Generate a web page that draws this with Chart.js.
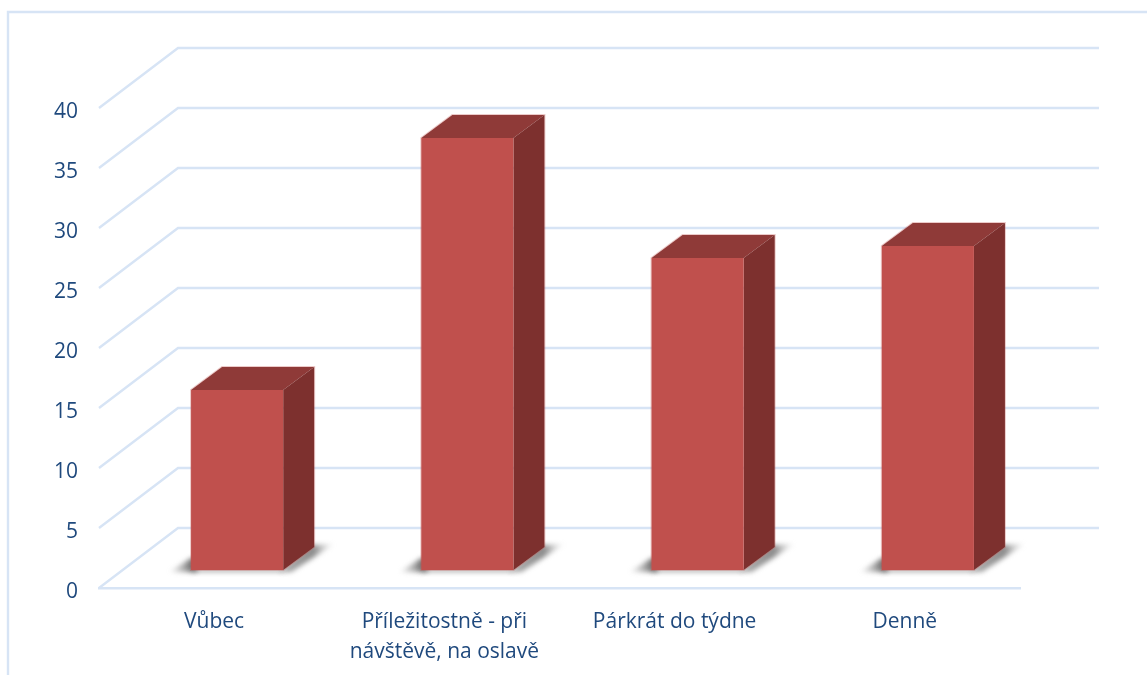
<!DOCTYPE html>
<html><head><meta charset="utf-8">
<style>html,body{margin:0;padding:0;background:#fff}canvas{display:block}</style>
<script src="https://cdn.jsdelivr.net/npm/chart.js@4"></script>
</head><body><canvas id="c" width="1147" height="675"></canvas>
<script>
const categories = ['Vůbec', ['Příležitostně - při', 'návštěvě, na oslavě'], 'Párkrát do týdne', 'Denně'];
const values = [15, 36, 26, 27];
const yMax = 40, yStep = 5;
const GRID = '#d7e4f5', TEXT = '#1f497d';
const FRONT = '#c0504d', TOP = '#8f3a38', SIDE = '#7d302e';
const FONT = 'Open Sans';
const BACK_DX = 79, BACK_DY = -60;   // wall offset
const BAR_DX = 23, BAR_DY = -18;     // bar offset in the depth
const BAR_DEPTH_X = 31, BAR_DEPTH_Y = -23;

const poly = (ctx, pts) => { ctx.beginPath(); pts.forEach((p, i) => i ? ctx.lineTo(p[0], p[1]) : ctx.moveTo(p[0], p[1])); ctx.closePath(); };

const wall = {
  id: 'wall',
  beforeDraw(chart) {
    const { ctx, scales: { x, y } } = chart;
    ctx.save();
    ctx.strokeStyle = GRID; ctx.lineWidth = 2.4;
    ctx.beginPath(); ctx.moveTo(8, 675); ctx.lineTo(8, 12); ctx.lineTo(1147, 12); ctx.stroke();
    for (let v = 0; v <= yMax; v += yStep) {
      const py = y.getPixelForValue(v);
      ctx.beginPath();
      ctx.moveTo(x.left, py);
      ctx.lineTo(x.left + BACK_DX, py + BACK_DY);
      ctx.lineTo(x.right + BACK_DX, py + BACK_DY);
      ctx.stroke();
    }
    ctx.restore();
  },
  beforeDatasetDraw(chart) {
    const { ctx } = chart;
    const base = chart.getDatasetMeta(0).data;
    ctx.save();
    base.forEach(b => {
      const l = b.x - b.width / 2 + BAR_DX, r = b.x + b.width / 2 + BAR_DX, bot = b.base + BAR_DY, top = b.y + BAR_DY;
      // floor shadows
      ctx.save();
      ctx.filter = 'blur(2.5px)';
      let g = ctx.createLinearGradient(l - 22, 0, l, 0);
      g.addColorStop(0, 'rgba(140,140,140,0.05)'); g.addColorStop(.6, 'rgba(120,120,120,.55)'); g.addColorStop(1, 'rgba(90,90,90,.85)');
      ctx.fillStyle = g;
      poly(ctx, [[l - 22, bot + 2], [l, bot - 12], [l + 6, bot - 12], [l + 6, bot + 2]]); ctx.fill();
      g = ctx.createLinearGradient(r, 0, r + BAR_DEPTH_X + 20, 0);
      g.addColorStop(0, 'rgba(110,110,110,.6)'); g.addColorStop(.6, 'rgba(100,100,100,.75)'); g.addColorStop(1, 'rgba(180,180,180,.05)');
      ctx.fillStyle = g;
      poly(ctx, [[r - 4, bot + 2], [r + BAR_DEPTH_X - 4, bot + BAR_DEPTH_Y - 2], [r + BAR_DEPTH_X + 20, bot + BAR_DEPTH_Y - 3], [r + 8, bot + 2]]); ctx.fill();
      ctx.fillStyle = 'rgba(120,120,120,.7)';
      ctx.fillRect(l, bot - 1, r - l, 3);
      ctx.restore();
      // pale halo round the box
      ctx.strokeStyle = 'rgba(192,80,77,.3)'; ctx.lineWidth = 2;
      poly(ctx, [[l, bot], [l, top], [l + BAR_DEPTH_X, top + BAR_DEPTH_Y], [r + BAR_DEPTH_X, top + BAR_DEPTH_Y], [r + BAR_DEPTH_X, bot + BAR_DEPTH_Y], [r, bot]]); ctx.stroke();
      // top & side faces
      ctx.fillStyle = TOP;
      poly(ctx, [[l, top], [l + BAR_DEPTH_X, top + BAR_DEPTH_Y], [r + BAR_DEPTH_X, top + BAR_DEPTH_Y], [r, top]]); ctx.fill();
      ctx.fillStyle = SIDE;
      poly(ctx, [[r, top], [r + BAR_DEPTH_X, top + BAR_DEPTH_Y], [r + BAR_DEPTH_X, bot + BAR_DEPTH_Y], [r, bot]]); ctx.fill();
    });
    ctx.restore();
    ctx.save();
    ctx.translate(BAR_DX, BAR_DY);
  },
  afterDatasetDraw(chart) { chart.ctx.restore(); }
};

new Chart(document.getElementById('c'), {
  type: 'bar',
  plugins: [wall],
  data: { labels: categories, datasets: [{ data: values, backgroundColor: FRONT, borderWidth: 0, barPercentage: 0.8, categoryPercentage: 0.5, clip: false }] },
  options: {
    responsive: false, animation: false,
    layout: { padding: { left: 9, right: 127, top: 108, bottom: 2 } },
    plugins: { legend: { display: false }, tooltip: { enabled: false } },
    scales: {
      x: {
        grid: { display: false, drawTicks: false },
        border: { display: true, color: GRID, width: 2.4 },
        ticks: { color: TEXT, font: { family: FONT, size: 21, lineHeight: 1.43 }, padding: 19, maxRotation: 0, autoSkip: false },
        afterFit: s => { s.height = 85; }
      },
      y: {
        min: 0, max: yMax,
        grid: { display: false, drawTicks: false },
        border: { display: false },
        ticks: { stepSize: yStep, color: TEXT, font: { family: FONT, size: 21 }, padding: 21 },
        afterFit: s => {
          s.width = 90;
          if (!s._shifted) {
            s._shifted = true;
            const orig = s._computeLabelItems;
            s._computeLabelItems = function (a) {
              const items = orig.call(this, a);
              items.forEach(i => { i.options.translation[1] += 4; });
              return items;
            };
          }
        }
      }
    }
  }
});
</script></body></html>
